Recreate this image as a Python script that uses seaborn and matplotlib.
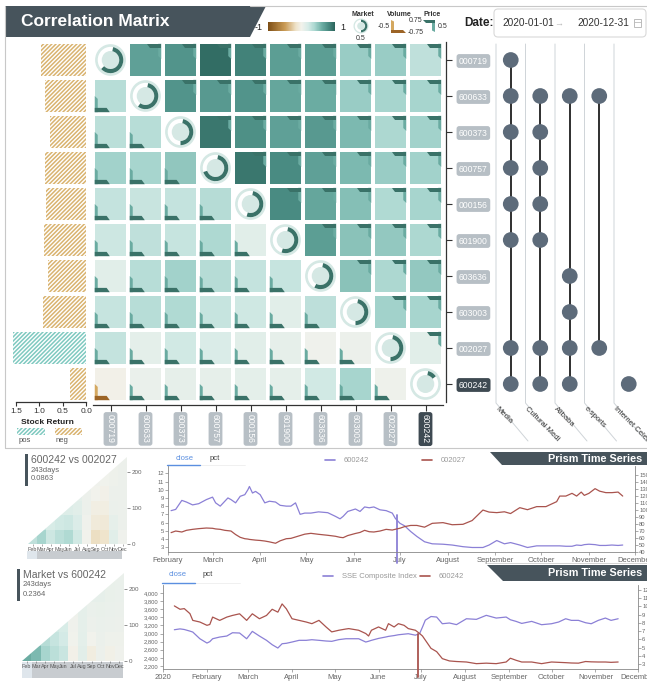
import numpy as np
import pandas as pd
import matplotlib
matplotlib.use("Agg")
import matplotlib.pyplot as plt
import matplotlib.dates as mdates
import matplotlib.colorbar as mcolorbar
from matplotlib.colors import LinearSegmentedColormap, Normalize
from matplotlib.patches import Polygon, Wedge, Circle, Rectangle, FancyBboxPatch
from matplotlib.ticker import FuncFormatter
import seaborn as sns

# ---------------- data ----------------
stocks = ["000719", "600633", "600373", "600757", "000156",
          "601900", "603636", "603003", "002027", "600242"]
# upper triangle: price correlation, lower triangle: volume correlation
corr_rows = [
    [np.nan, 0.68, 0.75, 0.95, 0.85, 0.70, 0.70, 0.45, 0.45, 0.30],
    [0.33, np.nan, 0.75, 0.72, 0.75, 0.65, 0.62, 0.45, 0.40, 0.40],
    [0.32, 0.33, np.nan, 0.90, 0.78, 0.68, 0.72, 0.55, 0.38, 0.42],
    [0.42, 0.40, 0.48, np.nan, 0.90, 0.80, 0.68, 0.55, 0.45, 0.42],
    [0.28, 0.26, 0.28, 0.34, np.nan, 0.80, 0.65, 0.52, 0.36, 0.40],
    [0.24, 0.30, 0.27, 0.37, 0.12, np.nan, 0.70, 0.50, 0.47, 0.38],
    [0.12, 0.33, 0.42, 0.34, 0.28, 0.27, np.nan, 0.50, 0.38, 0.47],
    [0.27, 0.33, 0.36, 0.27, 0.23, 0.12, 0.31, np.nan, 0.42, 0.40],
    [0.28, 0.10, 0.22, 0.17, 0.12, 0.08, 0.02, 0.04, np.nan, 0.12],
    [-0.02, 0.06, 0.08, 0.08, 0.10, 0.09, 0.22, 0.40, 0.03, np.nan],
]
market_corr = [0.63, 0.60, 0.50, 0.70, 0.55, 0.55, 0.58, 0.50, 0.50, 0.15]
stock_return = [-0.96, -0.88, -0.76, -0.87, -0.86, -0.90, -0.81, -0.91, 1.55, -0.34]

groups = ["Media", "Cultural Medi", "Alibaba", "e-sports", "Internet Celebrity"]
group_members = {
    "Media": ["000719", "600633", "600373", "600757", "000156", "601900", "002027", "600242"],
    "Cultural Medi": ["600633", "600373", "600757", "000156", "601900", "002027", "600242"],
    "Alibaba": ["600633", "603636", "603003", "002027", "600242"],
    "e-sports": ["600633", "002027"],
    "Internet Celebrity": ["600242"],
}

prism_months = ["Feb", "Mar", "Apr", "May", "Jun", "Jul", "Aug", "Sep", "Oct", "Nov", "Dec"]
prism1 = [
    [0.06, 0.08, 0.08, 0.08, 0.07, 0.06, 0.04, 0.03, 0.02, 0.03, 0.04],
    [0.08, 0.10, 0.10, 0.09, 0.08, 0.07, 0.04, 0.02, 0.01, 0.03, 0.04],
    [0.10, 0.14, 0.12, 0.11, 0.10, 0.09, 0.04, 0.00, -0.02, 0.04, 0.04],
    [0.14, 0.20, 0.15, 0.15, 0.15, 0.12, 0.04, -0.04, -0.05, 0.05, 0.04],
    [0.20, 0.28, 0.18, 0.22, 0.24, 0.16, 0.02, -0.09, -0.10, 0.08, 0.04],
    [0.30, 0.40, 0.24, 0.32, 0.36, 0.22, 0.00, -0.18, -0.16, 0.12, 0.02],
]
prism2 = [
    [0.15, 0.15, 0.14, 0.12, 0.10, 0.04, 0.08, 0.08, 0.08, 0.07, 0.06],
    [0.20, 0.20, 0.18, 0.15, 0.12, 0.03, 0.08, 0.08, 0.08, 0.07, 0.06],
    [0.28, 0.26, 0.22, 0.19, 0.15, 0.03, 0.09, 0.06, 0.07, 0.06, 0.05],
    [0.36, 0.33, 0.27, 0.22, 0.18, 0.02, 0.09, 0.04, 0.06, 0.05, 0.04],
    [0.48, 0.44, 0.34, 0.27, 0.21, 0.01, 0.10, 0.00, 0.05, 0.03, 0.03],
    [0.62, 0.55, 0.40, 0.32, 0.25, -0.02, 0.11, -0.06, 0.04, -0.03, 0.02],
]
prism_windows = [0, 100, 200]
prism_max_window = 243

p1_dates = ["2020-02-03", "2020-02-06", "2020-02-10", "2020-02-13", "2020-02-17", "2020-02-21", "2020-02-26",
            "2020-03-01", "2020-03-03", "2020-03-06", "2020-03-09", "2020-03-11", "2020-03-13", "2020-03-16",
            "2020-03-19", "2020-03-22", "2020-03-24", "2020-03-25", "2020-03-27", "2020-03-29",
            "2020-04-01", "2020-04-04", "2020-04-07", "2020-04-11", "2020-04-14", "2020-04-18", "2020-04-21",
            "2020-04-24", "2020-04-27", "2020-04-30",
            "2020-05-04", "2020-05-09", "2020-05-15", "2020-05-20", "2020-05-23", "2020-05-25", "2020-05-28",
            "2020-06-02", "2020-06-05", "2020-06-08", "2020-06-11", "2020-06-14", "2020-06-18", "2020-06-22",
            "2020-06-26", "2020-06-28",
            "2020-07-01", "2020-07-04", "2020-07-08", "2020-07-12", "2020-07-17", "2020-07-22", "2020-07-29",
            "2020-08-04", "2020-08-11", "2020-08-17", "2020-08-24", "2020-08-28",
            "2020-09-02", "2020-09-07", "2020-09-11", "2020-09-17", "2020-09-22", "2020-09-28",
            "2020-10-04", "2020-10-11", "2020-10-13", "2020-10-17", "2020-10-21", "2020-10-24", "2020-10-27",
            "2020-10-29",
            "2020-11-01", "2020-11-05", "2020-11-08", "2020-11-12", "2020-11-16", "2020-11-20", "2020-11-23"]
p1_600242 = [7.45, 7.6, 8.7, 8.5, 8.15, 8.3, 8.8,
             9.1, 8.4, 8.0, 8.6, 9.0, 8.8, 8.4, 9.2, 9.4, 10.0, 10.4, 9.6, 9.8,
             9.4, 8.4, 8.6, 8.5, 8.1, 8.0, 8.0, 8.4, 7.0, 7.15,
             7.15, 7.3, 7.2, 6.75, 6.45, 6.75, 7.35,
             7.65, 7.35, 7.9, 7.8, 7.9, 7.55, 7.45, 7.15, 6.5,
             5.9, 5.6, 4.9, 4.3, 3.65, 3.4, 3.35,
             3.25, 3.05, 2.95, 2.95, 3.25,
             3.8, 3.4, 3.55, 3.25, 2.95, 3.15,
             3.15, 3.15, 3.15, 3.1, 3.1, 3.25, 3.2, 3.3,
             3.35, 3.3, 3.2, 3.2, 3.25, 3.2, 3.25]
p1_002027 = [67.7, 70, 68.6, 71, 72.4, 73.4, 74.3,
             73.9, 73, 72.4, 71, 70.5, 70, 65, 61, 59, 58.5, 58, 57.5, 57,
             56.5, 55.7, 54.5, 52.5, 56, 59, 59.5, 61.5, 63.5, 65.5,
             66.7, 65.3, 63.9, 62.5, 61, 60.5, 63.5,
             66.5, 68, 71, 69, 68.6, 70, 72.4, 71.4, 72.5,
             74, 76.3, 78, 78, 75.5, 81, 82,
             79, 79.6, 85, 100, 97.1,
             96.3, 97.5, 95, 103.4, 100.5, 104.9,
             104.9, 112, 120, 120, 123.9, 120, 125.7, 121,
             123.9, 130.6, 127, 124.9, 124.9, 125.7, 120]
p1_marker_date = ["2020-06-29", "2020-06-29"]
p1_marker_val = [6.95, 1.05]

p2_dates = ["2020-01-09", "2020-01-13", "2020-01-16", "2020-01-20", "2020-01-22", "2020-01-27",
            "2020-02-01", "2020-02-03", "2020-02-05", "2020-02-10", "2020-02-15", "2020-02-19", "2020-02-24",
            "2020-02-29",
            "2020-03-04", "2020-03-09", "2020-03-14", "2020-03-18", "2020-03-22", "2020-03-25", "2020-03-28",
            "2020-04-01", "2020-04-06", "2020-04-11", "2020-04-15", "2020-04-20", "2020-04-25", "2020-04-29",
            "2020-05-04", "2020-05-09", "2020-05-11", "2020-05-18", "2020-05-23", "2020-05-25", "2020-05-27",
            "2020-06-01", "2020-06-06", "2020-06-08", "2020-06-12", "2020-06-15", "2020-06-19", "2020-06-22",
            "2020-06-27", "2020-06-30",
            "2020-07-02", "2020-07-04", "2020-07-08", "2020-07-12", "2020-07-16", "2020-07-21", "2020-07-26",
            "2020-08-02", "2020-08-09", "2020-08-16", "2020-08-23", "2020-08-30",
            "2020-09-02", "2020-09-06", "2020-09-10", "2020-09-17", "2020-09-24",
            "2020-10-01", "2020-10-06", "2020-10-11", "2020-10-15", "2020-10-20", "2020-10-25", "2020-10-29",
            "2020-11-03", "2020-11-08", "2020-11-12", "2020-11-17"]
p2_sse = [3094, 3115, 3100, 3060, 3037, 2872,
          2766, 2800, 2872, 2914, 2939, 3020, 3013, 2872,
          3054, 2939, 2833, 2725, 2643, 2749, 2760,
          2791, 2833, 2833, 2848, 2833, 2816, 2808,
          2850, 2872, 2872, 2872, 2791, 2810, 2833,
          2880, 2914, 2930, 2950, 2970, 2985, 2996, 2960, 3000,
          3160, 3330, 3420, 3407, 3242, 3260, 3220,
          3365, 3350, 3449, 3382, 3407,
          3340, 3300, 3250, 3300, 3218,
          3242, 3284, 3365, 3325, 3325, 3267, 3242,
          3325, 3382, 3325, 3365]
p2_600242 = [10.06, 9.65, 9.73, 9.12, 8.3, 8.1,
             7.7, 7.8, 8.7, 8.3, 8.7, 8.9, 9.1, 8.3,
             9.1, 8.5, 8.9, 9.65, 9.3, 10.3, 9.7,
             8.5, 8.3, 8.1, 7.9, 8.3, 7.5, 6.9,
             7.1, 7.25, 7.3, 7.1, 6.7, 6.4, 7.1,
             7.5, 7.1, 7.9, 7.5, 7.9, 7.7, 7.3, 7.1, 6.7,
             6.4, 5.9, 4.9, 4.5, 3.65, 3.37, 3.3,
             3.24, 3.04, 3.1, 3.04, 3.24,
             3.7, 3.45, 3.24, 3.24, 3.04,
             3.24, 3.2, 3.16, 3.12, 3.1, 3.3, 3.26,
             3.24, 3.24, 3.2, 3.24]
p2_marker_date = ["2020-06-29", "2020-06-29"]
p2_marker_val = [6.69, 1.42]

# ---------------- style ----------------
sns.set_theme(style="white")
plt.rcParams["font.family"] = ["Liberation Sans", "DejaVu Sans"]
plt.rcParams["axes.facecolor"] = "none"
plt.rcParams["hatch.linewidth"] = 1.1

cmap = LinearSegmentedColormap.from_list("corr", [
    (0.0, "#7d4e15"), (0.25, "#c99a55"), (0.42, "#efe4cc"), (0.5, "#f2f2ec"),
    (0.6, "#d6ebe7"), (0.7, "#a8d6cf"), (0.8, "#6fb0a6"), (0.9, "#4a8c83"), (1.0, "#2b645b")])

TEAL_D, TEAL_M, RING = "#3a7268", "#6aaba1", "#d5e8e4"
BROWN_D, BROWN_M = "#9c6426", "#d4a860"
SLATE = "#47545c"
PURPLE, RED = "#8b80d6", "#a9544e"
HATCH = "////////"

W, H = 647, 681
fig = plt.figure(figsize=(W / 100, H / 100), dpi=100)


def add_ax(x0, y0, x1, y1):
    return fig.add_axes([x0 / W, 1 - y1 / H, (x1 - x0) / W, (y1 - y0) / H])


ov = add_ax(0, 0, W, H)
ov.set_xlim(0, W)
ov.set_ylim(H, 0)
ov.axis("off")

# frames and header
ov.plot([5, 5], [6, 448], color="#c8c8c8", lw=0.8)
ov.plot([5, 647], [448, 448], color="#c8c8c8", lw=0.8)
ov.plot([250, 647], [6, 6], color="#c8c8c8", lw=0.8)
ov.add_patch(Polygon([(5, 6), (266, 6), (250, 37), (5, 37)], closed=True, fc=SLATE, ec="none"))
ov.text(21, 22, "Correlation Matrix", color="white", fontsize=12.5, fontweight="bold",
        va="center", ha="left")

# colour legend
cax = add_ax(268, 22, 335, 31)
cb = mcolorbar.Colorbar(cax, cmap=cmap, norm=Normalize(-1, 1), orientation="horizontal")
cb.outline.set_visible(False)
cb.set_ticks([])
ov.text(263, 27, "-1", fontsize=6.5, ha="right", va="center", color="#222")
ov.text(340, 27, "1", fontsize=6.5, ha="left", va="center", color="#222")

# Market legend donut
ov.text(363, 14, "Market", fontsize=5, fontweight="bold", ha="center", va="center", color="#333")
ov.add_patch(Wedge((361, 26), 7.5, 0, 360, width=1.3, fc=RING, ec="none"))
ov.add_patch(Circle((361, 26), 3.8, fc=RING, ec="none"))
ov.add_patch(Wedge((361, 26), 6.3, -90, 90, width=2.2, fc=TEAL_D, ec="none"))
ov.text(361, 38, "0.5", fontsize=5, ha="center", va="center", color="#333")
# Volume legend
ov.text(399, 14, "Volume", fontsize=5, fontweight="bold", ha="center", va="center", color="#333")
ov.add_patch(Polygon([(391, 20), (394, 21.5), (394, 33), (391, 33)], fc=BROWN_M, ec="none"))
ov.add_patch(Polygon([(391, 30), (403, 30), (406, 33), (391, 33)], fc=BROWN_D, ec="none"))
ov.text(390, 26, "-0.5", fontsize=5, ha="right", va="center", color="#333")
ov.text(408, 33, "-0.75", fontsize=5, ha="left", va="center", color="#333")
# Price legend
ov.text(432, 14, "Price", fontsize=5, fontweight="bold", ha="center", va="center", color="#333")
ov.add_patch(Polygon([(432, 20), (435, 20), (435, 32), (432, 30.5)], fc=TEAL_M, ec="none"))
ov.add_patch(Polygon([(423, 20), (435, 20), (435, 22.5), (426, 22.5)], fc=TEAL_D, ec="none"))
ov.text(409, 21, "0.75", fontsize=5, ha="left", va="center", color="#333")
ov.text(438, 26, "0.5", fontsize=5, ha="left", va="center", color="#333")

# date picker
ov.text(464, 23, "Date:", fontsize=8.5, fontweight="bold", ha="left", va="center", color="#222")
ov.add_patch(FancyBboxPatch((494, 9), 152, 28, boxstyle="round,pad=0,rounding_size=4",
                            fc="white", ec="#d9d9d9", lw=0.8))
ov.text(502, 23.5, "2020-01-01", fontsize=7.3, ha="left", va="center", color="#333")
ov.text(559, 23.5, "\u2192", fontsize=6.5, ha="center", va="center", color="#bbbbbb")
ov.text(577, 23.5, "2020-12-31", fontsize=7.3, ha="left", va="center", color="#333")
ov.add_patch(Rectangle((634, 19), 7, 8, fc="none", ec="#bbbbbb", lw=0.7))
ov.plot([634, 641], [21.5, 21.5], color="#bbbbbb", lw=0.6)

# ---------------- correlation matrix (seaborn heatmap) ----------------
M = np.array(corr_rows, dtype=float)
n = len(stocks)
axm = add_ax(93, 42, 443, 402)
sns.heatmap(pd.DataFrame(M, index=stocks, columns=stocks), mask=np.eye(n, dtype=bool),
            cmap=cmap, vmin=-1, vmax=1, cbar=False, linewidths=2.6, linecolor="white", ax=axm)
axm.set_xlim(0, n)
axm.set_ylim(n, 0)
for s in ["left", "top"]:
    axm.spines[s].set_visible(False)
for s in ["right", "bottom"]:
    axm.spines[s].set_visible(True)
    axm.spines[s].set_color("#333333")
    axm.spines[s].set_linewidth(0.9)
axm.spines["right"].set_position(("outward", 2.5))
axm.spines["bottom"].set_position(("outward", 2))
axm.yaxis.tick_right()
axm.set_yticks(np.arange(n) + 0.5)
axm.set_yticklabels(stocks, rotation=0)
axm.set_xticks(np.arange(n) + 0.5)
axm.set_xticklabels(stocks, rotation=-90)
axm.tick_params(axis="y", right=True, left=False, length=4, width=0.8, color="#333",
                pad=5, labelsize=6.2, labelcolor="white")
axm.tick_params(axis="x", bottom=True, length=4, width=0.8, color="#333",
                pad=3, labelsize=6.2, labelcolor="white")
axm.set_xlabel("")
axm.set_ylabel("")
for labs in (axm.get_yticklabels(), axm.get_xticklabels()):
    for i, lab in enumerate(labs):
        lab.set_bbox(dict(boxstyle="round,pad=0.28,rounding_size=0.3",
                          fc="#3e4a52" if i == n - 1 else "#b7bfc5", ec="none"))

g = 0.05
for i in range(n):
    for j in range(n):
        x0, x1, y0, y1 = j + g, j + 1 - g, i + g, i + 1 - g
        if i == j:
            cx, cy = j + 0.5, i + 0.5
            axm.add_patch(Wedge((cx, cy), 0.44, 0, 360, width=0.075, fc=RING, ec="none"))
            axm.add_patch(Circle((cx, cy), 0.25, fc=RING, ec="none"))
            t1 = -90 + 12
            t2 = -90 + 360 * market_corr[i]
            axm.add_patch(Wedge((cx, cy), 0.365, t1, t2, width=0.115, fc=TEAL_D, ec="none"))
        elif j > i:
            dark, mid = (TEAL_D, TEAL_M) if M[i, j] >= 0 else (BROWN_D, BROWN_M)
            axm.add_patch(Polygon([(x1 - 0.085, y0), (x1, y0), (x1, y0 + 0.42), (x1 - 0.085, y0 + 0.34)],
                                  fc=mid, ec="none"))
            axm.add_patch(Polygon([(x1 - 0.42, y0), (x1, y0), (x1, y0 + 0.12), (x1 - 0.33, y0 + 0.12)],
                                  fc=dark, ec="none"))
        else:
            dark, mid = (TEAL_D, TEAL_M) if M[i, j] >= 0 else (BROWN_D, BROWN_M)
            axm.add_patch(Polygon([(x0, y1), (x0, y1 - 0.45), (x0 + 0.085, y1 - 0.37), (x0 + 0.085, y1)],
                                  fc=mid, ec="none"))
            axm.add_patch(Polygon([(x0, y1), (x0 + 0.43, y1), (x0 + 0.34, y1 - 0.12), (x0, y1 - 0.12)],
                                  fc=dark, ec="none"))

# ---------------- stock return bars ----------------
axb = add_ax(5, 42, 88, 402)
sns.barplot(x=np.abs(stock_return), y=stocks, orient="h", color="white", width=0.89,
            order=stocks, ax=axb)
for p, r in zip(axb.patches, stock_return):
    p.set_facecolor("white")
    p.set_edgecolor("#7fc9c0" if r > 0 else "#d9b36f")
    p.set_hatch(HATCH)
    p.set_linewidth(0)
axb.set_xlim(1.73, -0.04)
axb.set_ylim(n - 0.5, -0.5)
axb.set_yticks([])
axb.set_xlabel("")
axb.set_ylabel("")
for s in ["left", "top", "right"]:
    axb.spines[s].set_visible(False)
axb.spines["bottom"].set_visible(True)
axb.spines["bottom"].set_color("#333")
axb.spines["bottom"].set_linewidth(0.9)
axb.spines["bottom"].set_bounds(0, 1.5)
axb.set_xticks([1.5, 1.0, 0.5, 0.0])
axb.set_xticklabels(["1.5", "1.0", "0.5", "0.0"])
axb.tick_params(axis="x", bottom=True, length=3, width=0.8, color="#333", labelsize=6,
                labelcolor="#333", pad=1.5)

ov.text(47, 422, "Stock Return", fontsize=6, fontweight="bold", ha="center", va="center", color="#222")
ov.add_patch(Rectangle((17, 428), 28, 7, fc="white", ec="#7fc9c0", hatch=HATCH, lw=0))
ov.add_patch(Rectangle((55, 428), 27, 7, fc="white", ec="#d9b36f", hatch=HATCH, lw=0))
ov.text(19, 441, "pos", fontsize=5.5, ha="left", va="center", color="#555")
ov.text(56, 441, "neg", fontsize=5.5, ha="left", va="center", color="#555")

# ---------------- group membership dots ----------------
axd = add_ax(496, 42, 643.5, 402)
member_df = pd.DataFrame([(gi, stocks.index(s)) for gi, gname in enumerate(groups)
                          for s in group_members[gname]], columns=["group", "row"])
for gi, sub in member_df.groupby("group"):
    axd.plot([gi, gi], [sub["row"].min(), sub["row"].max()], color="#1f1f1f", lw=1.3, zorder=1)
sns.scatterplot(data=member_df, x="group", y="row", s=128, color="#5d6b7a", edgecolor="none",
                ax=axd, zorder=2, legend=False)
axd.set_xlim(-0.5, len(groups) - 0.5)
axd.set_ylim(n - 0.5, -0.5)
axd.axis("off")
for k, gname in enumerate(groups):
    xs = 496 + 29.5 * k
    ov.plot([xs, xs, xs + 32], [44, 403, 441], color="#cfd4d8", lw=0.7)
    ov.text(xs + 3, 405, gname, fontsize=5.5, rotation=-45, rotation_mode="anchor",
            ha="left", va="top", color="#333")

# ---------------- bottom panels ----------------
def month_fmt(v, pos=None):
    d = mdates.num2date(v)
    return d.strftime("%Y") if d.month == 1 else d.strftime("%B")


def style_line_axes(ax, axr, xl, yl, yt, ylr, ytr, yfmt=None):
    ax.set_xlim(pd.Timestamp(xl[0]), pd.Timestamp(xl[1]))
    ax.set_ylim(*yl)
    ax.set_yticks(yt)
    if yfmt:
        ax.yaxis.set_major_formatter(FuncFormatter(yfmt))
    axr.set_ylim(*ylr)
    axr.set_yticks(ytr)
    ax.xaxis.set_major_locator(mdates.MonthLocator())
    ax.xaxis.set_major_formatter(FuncFormatter(month_fmt))
    for a in (ax, axr):
        a.set_xlabel("")
        a.set_ylabel("")
        a.spines["top"].set_visible(False)
        for s in a.spines.values():
            s.set_color("#888")
            s.set_linewidth(0.6)
    ax.spines["right"].set_visible(False)
    axr.spines["left"].set_visible(False)
    axr.spines["bottom"].set_visible(False)
    ax.tick_params(axis="y", left=True, length=2, width=0.5, color="#888", labelsize=4.2,
                   labelcolor="#666", pad=1)
    axr.tick_params(axis="y", right=True, length=2, width=0.5, color="#888", labelsize=4.2,
                    labelcolor="#666", pad=1)
    ax.tick_params(axis="x", bottom=True, length=2, width=0.5, color="#888", labelsize=5.5,
                   labelcolor="#666", pad=1.5)


# panel 1 line chart
d1 = pd.to_datetime(p1_dates)
ax1 = add_ax(168, 466, 635, 552)
sns.lineplot(x=d1, y=p1_600242, ax=ax1, color=PURPLE, lw=0.9)
ax1r = ax1.twinx()
sns.lineplot(x=d1, y=p1_002027, ax=ax1r, color=RED, lw=0.9)
style_line_axes(ax1, ax1r, ("2020-02-01", "2020-12-01"), (2.4, 12.9), range(3, 13),
                (40, 163), range(40, 151, 10))
ax1.plot(pd.to_datetime(p1_marker_date), p1_marker_val, color=PURPLE, lw=1.3, clip_on=False)

# panel 2 line chart
d2 = pd.to_datetime(p2_dates)
ax2 = add_ax(163, 585, 638, 669)
sns.lineplot(x=d2, y=p2_sse, ax=ax2, color=PURPLE, lw=0.9)
ax2r = ax2.twinx()
sns.lineplot(x=d2, y=p2_600242, ax=ax2r, color=RED, lw=0.9)
style_line_axes(ax2, ax2r, ("2020-01-01", "2020-12-01"), (2126, 4197), range(2200, 4001, 200),
                (2.39, 12.6), range(3, 13), yfmt=lambda v, p: f"{int(v):,}")
ax2r.plot(pd.to_datetime(p2_marker_date), p2_marker_val, color=RED, lw=1.3, clip_on=False)

# tabs, legends, banners
for (xc, yc, xline, ylt) in [(185, 458, (167, 200), 465), (178, 574, (162, 195), 583)]:
    ov.text(xc, yc, "close", fontsize=5.5, ha="center", va="center", color="#5b8fe0")
    ov.text(xc + 30, yc, "pct", fontsize=5.5, ha="center", va="center", color="#444")
    ov.plot([xline[0], xline[1] + 45], [ylt, ylt], color="#eeeeee", lw=0.6)
    ov.plot(list(xline), [ylt, ylt], color="#5b8fe0", lw=1)

for (y, items) in [(460, [(325, PURPLE, "600242"), (422, RED, "002027")]),
                   (576, [(323, PURPLE, "SSE Composite Index"), (420, RED, "600242")])]:
    for (xs, c, lab) in items:
        ov.plot([xs, xs + 10], [y, y], color=c, lw=1.2)
        ov.text(xs + 19, y, lab, fontsize=5.5, ha="left", va="center", color="#999")

ov.add_patch(Polygon([(490, 452), (647, 452), (647, 465), (502, 465)], fc=SLATE, ec="none"))
ov.text(548, 458.5, "Prism Time Series", fontsize=7.8, fontweight="bold", color="white",
        ha="left", va="center")
ov.add_patch(Polygon([(487, 565), (647, 565), (647, 581), (503, 581)], fc=SLATE, ec="none"))
ov.text(548, 573, "Prism Time Series", fontsize=7.8, fontweight="bold", color="white",
        ha="left", va="center")
ov.plot([487, 647], [563, 563], color="#cccccc", lw=0.6)

# prism heatmaps
def draw_prism(grid, box, slider, title, days, corr_txt, tbox):
    x0, y0, x1, y1 = box
    ov.add_patch(Rectangle((slider[0], slider[1]), slider[2], slider[3], fc="#dfe6ec", ec="none"))
    ov.add_patch(Rectangle((slider[0] + 10, slider[1]), slider[2] - 10, slider[3], fc="#c8ccd0", ec="none"))
    ax = add_ax(x0, y0, x1, y1)
    arr = np.array(grid, dtype=float)
    nr, nc = arr.shape
    sns.heatmap(arr, cmap=cmap, vmin=-1, vmax=1, cbar=False, ax=ax)
    tri = Polygon([(0, nr), (nc, nr), (nc, 0)], closed=True, transform=ax.transData)
    ax.collections[0].set_clip_path(tri)
    ax.set_yticks([])
    ax.set_xticks(np.arange(nc) + 0.5)
    ax.set_xticklabels(prism_months, rotation=0)
    ax.tick_params(axis="x", bottom=True, length=1.5, width=0.4, color="#666", labelsize=3.9,
                   labelcolor="#555", pad=0.5)
    axr = ax.twinx()
    axr.set_ylim(0, prism_max_window)
    axr.set_yticks(prism_windows)
    axr.tick_params(axis="y", right=True, length=2.5, width=0.5, color="#666", labelsize=4.5,
                    labelcolor="#666", pad=1)
    for a in (ax, axr):
        for s in a.spines.values():
            s.set_visible(False)
    tx, ty = tbox
    ov.add_patch(Rectangle((tx - 6, ty - 6), 3, 32, fc=SLATE, ec="none"))
    ov.text(tx, ty, title, fontsize=7.5, ha="left", va="center", color="#666")
    ov.text(tx, ty + 10, days, fontsize=5.5, ha="left", va="center", color="#666")
    ov.text(tx, ty + 19, corr_txt, fontsize=5.5, ha="left", va="center", color="#666")


draw_prism(prism1, (28, 457, 127, 544), (27, 551, 95, 8), "600242 vs 002027", "243days", "0.0863",
           (31, 460))
draw_prism(prism2, (22, 573, 124, 661), (22, 662, 101, 16), "Market vs 600242", "243days", "0.2364",
           (23, 575))

fig.savefig("out.png", dpi=100)
